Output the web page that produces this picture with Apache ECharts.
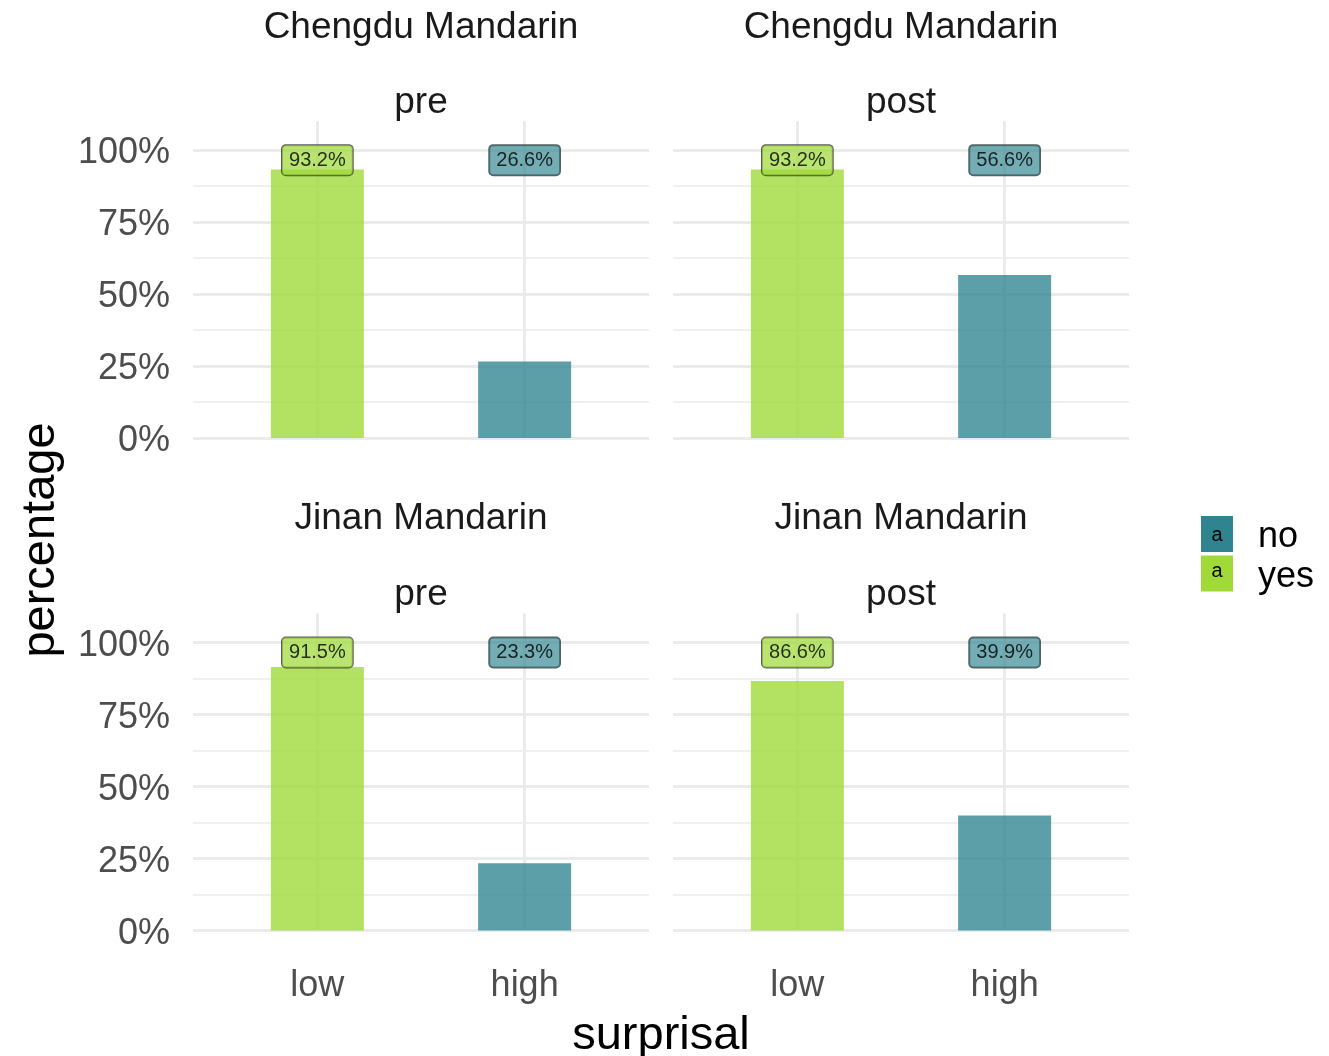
<!DOCTYPE html>
<html>
<head>
<meta charset="utf-8">
<title>surprisal</title>
<script src="https://cdn.jsdelivr.net/npm/echarts@6/dist/echarts.min.js"></script>
<style>html,body{margin:0;padding:0;background:#fff;}</style>
</head>
<body>
<div id="chart" style="width:1329px;height:1056px;"></div>
<script>
var regions = ['Chengdu Mandarin', 'Jinan Mandarin'];
var phases = ['pre', 'post'];
var categories = ['low', 'high'];
// panels in order: Chengdu pre, Chengdu post, Jinan pre, Jinan post
var yesValues = [93.2, 93.2, 91.5, 86.6];   // low surprisal -> yes
var noValues = [26.6, 56.6, 23.3, 39.9];    // high surprisal -> no
var yTicks = [0, 25, 50, 75, 100];
var yMinor = [12.5, 37.5, 62.5, 87.5];
var labelY = 97;

var font = 'Liberation Sans, Arial, sans-serif';
var colYes = '#a0da39', colNo = '#2f848f';
var lefts = [193, 673], tops = [135.6, 628];
var W = 456, H = 316.8;

var grids = [], xAxes = [], yAxes = [], series = [], graphics = [];

for (var r = 0; r < 2; r++) {
  for (var p = 0; p < 2; p++) {
    var i = r * 2 + p;
    grids.push({left: lefts[p], top: tops[r], width: W, height: H});
    xAxes.push({
      type: 'value', gridIndex: i, min: 0.4, max: 2.6,
      axisLine: {show: false}, splitLine: {show: false},
      axisTick: {show: true, inside: true, length: H, customValues: [1, 2],
        lineStyle: {color: '#ebebeb', width: 3}},
      axisLabel: {show: r === 1, customValues: [1, 2], margin: 23,
        formatter: function (v) { return categories[Math.round(v) - 1]; },
        fontSize: 36, color: '#4d4d4d', fontFamily: font}
    });
    yAxes.push({
      type: 'value', gridIndex: i, min: -5, max: 105,
      axisLine: {show: false}, splitLine: {show: false},
      axisTick: {show: true, inside: true, length: W, customValues: yTicks,
        lineStyle: {color: '#ebebeb', width: 3}},
      axisLabel: {show: p === 0, customValues: yTicks, margin: 23,
        formatter: function (v) { return '{t|' + v + '%}'; },
        rich: {t: {fontSize: 36, color: '#4d4d4d', fontFamily: font, padding: [7, 0, 0, 0]}},
        fontSize: 36, color: '#4d4d4d', fontFamily: font}
    });
    yAxes.push({
      type: 'value', gridIndex: i, min: -5, max: 105,
      axisLine: {show: false}, splitLine: {show: false}, axisLabel: {show: false},
      axisTick: {show: true, inside: true, length: W, customValues: yMinor,
        lineStyle: {color: '#ebebeb', width: 1.5}}
    });
    series.push({
      name: 'yes', type: 'bar', xAxisIndex: i, yAxisIndex: 2 * i,
      barWidth: 93, barGap: '-100%',
      itemStyle: {color: 'rgba(160,218,57,0.8)'},
      data: [[categories.indexOf('low') + 1, yesValues[i]]]
    });
    series.push({
      name: 'no', type: 'bar', xAxisIndex: i, yAxisIndex: 2 * i,
      barWidth: 93, barGap: '-100%',
      itemStyle: {color: 'rgba(47,132,143,0.78)'},
      data: [[categories.indexOf('high') + 1, noValues[i]]]
    });
    [[1, yesValues[i], 'rgba(160,218,57,0.9)'], [2, noValues[i], 'rgba(47,132,143,0.84)']].forEach(function (d) {
      series.push({
        type: 'scatter', xAxisIndex: i, yAxisIndex: 2 * i, symbolSize: 0, z: 5,
        data: [[d[0], labelY, d[1]]],
        label: {show: true, position: 'inside', offset: [0, 1.5],
          formatter: function (q) { return q.value[2].toFixed(1) + '%'; },
          fontSize: 20, lineHeight: 22, color: '#000', fontFamily: font,
          backgroundColor: d[2], borderColor: '#333', borderWidth: 1, borderRadius: 4,
          padding: [5, 7, 3, 7]}
      });
    });
    var cx = lefts[p] + W / 2;
    graphics.push({type: 'text', x: cx, y: r === 0 ? 28 : 519,
      style: {text: regions[r], fontSize: 37, fill: '#1a1a1a', fontFamily: font,
        textAlign: 'center', textVerticalAlign: 'middle'}});
    graphics.push({type: 'text', x: cx, y: r === 0 ? 103 : 595,
      style: {text: phases[p], fontSize: 37, fill: '#1a1a1a', fontFamily: font,
        textAlign: 'center', textVerticalAlign: 'middle'}});
  }
}

graphics.push({type: 'text', x: 661, y: 1036,
  style: {text: 'surprisal', fontSize: 47, fill: '#000', fontFamily: font,
    textAlign: 'center', textVerticalAlign: 'middle'}});
graphics.push({type: 'text', x: 41, y: 540, rotation: Math.PI / 2,
  style: {text: 'percentage', fontSize: 47, fill: '#000', fontFamily: font,
    textAlign: 'center', textVerticalAlign: 'middle'}});
graphics.push({type: 'text', x: 1217, y: 535, z: 100,
  style: {text: 'a', fontSize: 20, fill: '#000', fontFamily: font, textAlign: 'center', textVerticalAlign: 'middle'}});
graphics.push({type: 'text', x: 1217, y: 571, z: 100,
  style: {text: 'a', fontSize: 20, fill: '#000', fontFamily: font, textAlign: 'center', textVerticalAlign: 'middle'}});

var chart = echarts.init(document.getElementById('chart'));
chart.setOption({
  animation: false,
  backgroundColor: '#fff',
  grid: grids,
  xAxis: xAxes,
  yAxis: yAxes,
  legend: {
    orient: 'vertical', left: 1201, top: 516, padding: 0,
    itemWidth: 32, itemHeight: 36, itemGap: 0,
    icon: 'rect', selectedMode: false,
    formatter: function (name) { return '{t|' + name + '}'; },
    data: [{name: 'no', itemStyle: {color: colNo}}, {name: 'yes', itemStyle: {color: colYes}}],
    textStyle: {fontSize: 36, color: '#000', fontFamily: font,
      rich: {t: {fontSize: 36, color: '#000', fontFamily: font, padding: [7, 0, 0, 20]}}}
  },
  graphic: graphics,
  series: series
});
</script>
</body>
</html>
